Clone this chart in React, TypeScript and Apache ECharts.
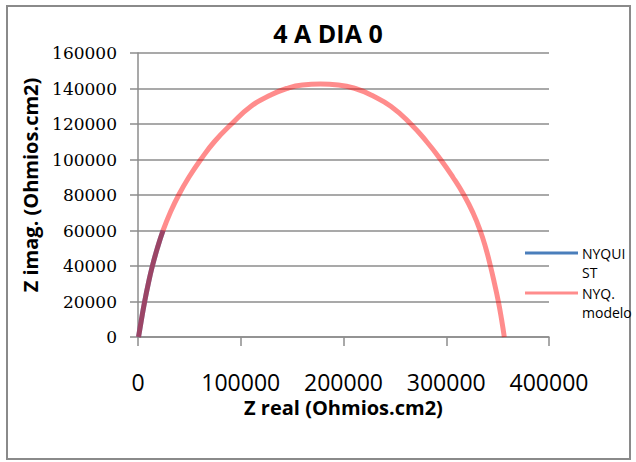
import React, { useEffect, useRef } from "react";
import * as echarts from "echarts";

// Measured impedance (Nyquist) – real and imaginary parts, Ohmios.cm2
const nyquistRe = [500, 3400, 6500, 10000, 14000, 18800, 24400];
const nyquistIm = [0, 10000, 20000, 30000, 40000, 50000, 60000];

// Fitted model curve
const modelRe = [
  500, 3400, 6500, 10000, 14000, 18800, 24400, 31300, 39600, 49500, 61100,
  74300, 91000, 110000, 128000, 144600, 160000, 177500, 195000, 211500, 228000,
  246000, 265500, 281000, 294500, 306500, 317200, 326000, 333000, 338500,
  343000, 347000, 350700, 353800, 356500,
];
const modelIm = [
  0, 10000, 20000, 30000, 40000, 50000, 60000, 70000, 80000, 90000, 100000,
  110000, 120000, 130000, 136000, 140000, 142000, 142500, 142000, 140000,
  136000, 130000, 120000, 110000, 100000, 90000, 80000, 70000, 60000, 50000,
  40000, 30000, 20000, 10000, 0,
];

const seriesNames = ["NYQUIST", "NYQ. modelo"];
const legendLines = [
  ["NYQUI", "ST"],
  ["NYQ.", "modelo"],
];
const seriesColors = ["#4A7EBB", "rgba(255,0,0,0.45)"];

const title = "4 A DIA 0";
const xTitle = "Z real (Ohmios.cm2)";
const yTitle = "Z imag. (Ohmios.cm2)";

const zip = (xs: number[], ys: number[]) => xs.map((x, i) => [x, ys[i]]);

export default function App() {
  const ref = useRef<HTMLDivElement>(null);

  useEffect(() => {
    if (!ref.current) return;
    const chart = echarts.init(ref.current, undefined, { renderer: "svg" });
    const gridColor = "#8c8c8c";
    const sans = "'Open Sans', sans-serif";

    const legendGraphics: any[] = [];
    const legendTop = [253, 293];
    legendLines.forEach((lines, i) => {
      legendGraphics.push({
        type: "line",
        shape: { x1: 525, y1: legendTop[i], x2: 578, y2: legendTop[i] },
        style: { stroke: seriesColors[i], lineWidth: 3 },
      });
      lines.forEach((t, j) => {
        legendGraphics.push({
          type: "text",
          x: 582,
          y: legendTop[i] + j * 19,
          style: {
            text: t,
            font: `14px ${sans}`,
            fill: "#000",
            align: "left",
            verticalAlign: "middle",
          },
        });
      });
    });

    chart.setOption({
      animation: false,
      backgroundColor: "#fff",
      title: {
        text: title,
        left: 323,
        top: 15,
        textAlign: "center",
        textStyle: {
          fontFamily: sans,
          fontWeight: "bold",
          fontSize: 25,
          color: "#000",
        },
      },
      grid: { left: 138, right: 87, top: 53, bottom: 125 },
      xAxis: {
        type: "value",
        min: 0,
        max: 400000,
        interval: 100000,
        name: xTitle,
        nameLocation: "middle",
        nameGap: 60,
        nameTextStyle: {
          fontFamily: sans,
          fontWeight: "bold",
          fontSize: 20,
          color: "#000",
        },
        axisLine: { show: true, lineStyle: { color: gridColor, width: 1.5 } },
        axisTick: { show: true, length: 9, lineStyle: { color: gridColor, width: 1.5 } },
        axisLabel: {
          margin: 33,
          fontFamily: sans,
          fontSize: 23,
          color: "#000",
          formatter: (v: number) => String(v),
        },
        splitLine: { show: false },
      },
      yAxis: {
        type: "value",
        min: 0,
        max: 160000,
        interval: 20000,
        axisLine: { show: true, lineStyle: { color: gridColor, width: 1.5 } },
        axisTick: { show: true, length: 8, lineStyle: { color: gridColor, width: 1.5 } },
        axisLabel: {
          margin: 21,
          fontFamily: "'DejaVu Serif', serif",
          fontSize: 17,
          color: "#000",
          formatter: (v: number) => String(v),
        },
        splitLine: { show: true, lineStyle: { color: gridColor, width: 1.5 } },
      },
      series: [
        {
          name: seriesNames[0],
          type: "line",
          data: zip(nyquistRe, nyquistIm),
          smooth: 0.5,
          showSymbol: false,
          lineStyle: { color: seriesColors[0], width: 5 },
          z: 2,
        },
        {
          name: seriesNames[1],
          type: "line",
          data: zip(modelRe, modelIm),
          smooth: 0.5,
          showSymbol: false,
          lineStyle: { color: seriesColors[1], width: 5 },
          z: 3,
        },
      ],
      graphic: [
        {
          type: "rect",
          shape: { x: 7, y: 6, width: 623, height: 453 },
          style: { fill: "none", stroke: "#8a8a8a", lineWidth: 2 },
          silent: true,
        },
        {
          type: "text",
          x: 30,
          y: 185,
          rotation: Math.PI / 2,
          style: {
            text: yTitle,
            font: `bold 20px ${sans}`,
            fill: "#000",
            align: "center",
            verticalAlign: "middle",
          },
        },
        ...legendGraphics,
      ],
    });
    return () => chart.dispose();
  }, []);

  return (
    <div
      ref={ref}
      style={{ position: "absolute", left: 0, top: 0, width: 636, height: 462 }}
    />
  );
}
